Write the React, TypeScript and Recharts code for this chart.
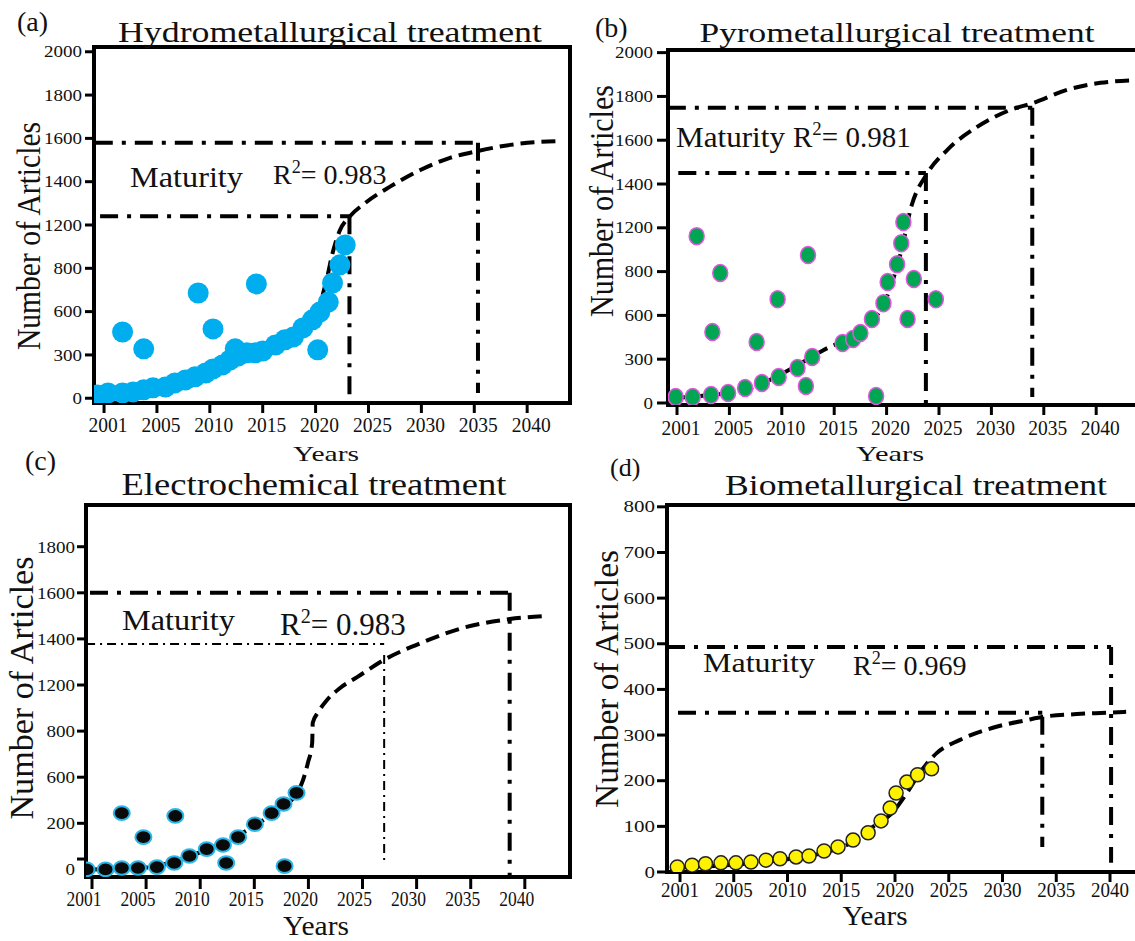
import React from 'react';
import { ComposedChart, XAxis, YAxis, Line, Scatter, ReferenceLine, ReferenceArea } from 'recharts';

const FONT = '"Liberation Serif", "Times New Roman", Times, serif';

// x axis tick years (ticks are evenly spaced in the figure)
const yearTicks = [2001, 2005, 2010, 2015, 2020, 2025, 2030, 2035, 2040];

// y axis tick values (evenly spaced in the figure, uneven in value)
const hydroStops = [0, 300, 600, 800, 1200, 1400, 1600, 1800, 2000];
const pyroStops = [0, 300, 600, 800, 1200, 1400, 1600, 1800, 2000];
const electroStops = [0, 200, 600, 800, 1200, 1400, 1600, 1800];
const bioStops = [0, 100, 200, 300, 400, 500, 600, 700, 800];

// [year, number of articles]
const hydroPoints: [number, number][] = [
  [2000.5, 23], [2001.3, 37], [2002.4, 37], [2003.2, 44], [2004.0, 58], [2004.7, 72], [2005.8, 78],
  [2006.7, 106], [2007.7, 127], [2008.6, 148], [2009.6, 175], [2010.3, 203], [2011.2, 231], [2011.9, 265],
  [2012.7, 293], [2013.5, 315], [2014.3, 315], [2015.0, 327], [2016.2, 369], [2017.1, 405], [2017.9, 425],
  [2018.8, 487], [2019.7, 543], [2020.4, 597], [2021.2, 644], [2021.6, 732], [2022.3, 832], [2022.8, 1016],
  [2002.4, 459], [2004.0, 342], [2008.9, 686], [2010.3, 480], [2012.4, 342], [2014.4, 728], [2020.2, 335],
];
const hydroFit: [number, number][] = [
  [2001, 25], [2005, 60], [2010, 180], [2015, 320], [2018, 450], [2020, 580], [2021.1, 760], [2021.55, 920],
  [2022.3, 1152], [2023.2, 1238], [2024.7, 1302], [2027, 1376], [2029.9, 1454], [2032.7, 1510],
  [2035.35, 1542], [2038.4, 1570], [2041.2, 1584], [2043.3, 1588],
];

const pyroPoints: [number, number][] = [
  [2000.9, 41], [2002.2, 41], [2003.6, 55], [2004.9, 68], [2006.5, 103], [2008.1, 137], [2009.7, 178],
  [2011.5, 240], [2012.9, 315], [2015.8, 411], [2016.8, 438], [2017.5, 480], [2018.6, 576], [2019.7, 656],
  [2020.1, 752], [2021.0, 868], [2021.4, 1060], [2021.6, 1226],
  [2012.3, 116], [2002.5, 1124], [2004.3, 794], [2003.7, 486], [2007.6, 417], [2009.6, 674], [2012.5, 952],
  [2022.6, 766], [2022.0, 576], [2024.7, 674], [2019.0, 48],
];
const pyroFit: [number, number][] = [
  [2001, 35], [2002.8, 48], [2006.5, 89], [2010.5, 219], [2014, 363], [2017.5, 500], [2019.9, 670],
  [2021.3, 952], [2022.4, 1304], [2023.9, 1450], [2025.8, 1556], [2028.6, 1660], [2031.8, 1738],
  [2034, 1770], [2037.2, 1830], [2040.4, 1862], [2043.7, 1874],
];

const electroPoints: [number, number][] = [
  [2000.6, 0], [2002, 0], [2003.2, 6], [2004.4, 6], [2006, 10], [2007.6, 28], [2009, 58], [2010.6, 88],
  [2012.1, 106], [2013.5, 140], [2015.05, 196], [2016.6, 288], [2017.7, 368], [2018.9, 464],
  [2003.2, 288], [2004.8, 140], [2007.7, 264], [2012.4, 28], [2017.8, 14],
];
const electroFit: [number, number][] = [
  [2001, 0], [2005, 8], [2008, 40], [2011, 95], [2014, 160], [2016.6, 280], [2018.9, 460], [2019.4, 549],
  [2019.95, 662], [2020.35, 750], [2020.4, 872], [2020.9, 964], [2021.7, 1068], [2022.9, 1172],
  [2024.5, 1234], [2027.1, 1312], [2030.6, 1386], [2034.3, 1448], [2038.6, 1486], [2042, 1500],
];

const bioPoints: [number, number][] = [
  [2000.8, 11], [2001.9, 15], [2002.9, 18], [2004.05, 20], [2005.2, 20], [2006.6, 22], [2008, 26],
  [2009.3, 29], [2010.8, 33], [2012, 35], [2013.4, 46], [2014.7, 55], [2016.1, 70], [2017.5, 86],
  [2018.7, 112], [2019.55, 140], [2020.1, 173], [2021.1, 197], [2022.1, 213], [2023.4, 226],
];
const bioFit: [number, number][] = [
  [2001, 10], [2005, 16], [2010, 28], [2013, 40], [2016, 65], [2018, 100], [2019.55, 125], [2021.1, 173],
  [2022.3, 217], [2023.9, 261], [2026, 289], [2029.1, 316], [2032.3, 333], [2033.8, 340], [2036.9, 346],
  [2039.7, 349], [2041.5, 351],
];

// piecewise position of a value between evenly spaced ticks
function warp(v: number, stops: number[]) {
  const n = stops.length;
  if (v <= stops[0]) return (v - stops[0]) / (stops[1] - stops[0]);
  for (let i = 1; i < n; i++) {
    if (v <= stops[i]) return i - 1 + (v - stops[i - 1]) / (stops[i] - stops[i - 1]);
  }
  return n - 1 + (v - stops[n - 1]) / (stops[n - 1] - stops[n - 2]);
}

const THICK = { w: 4, dash: '18 9 4 9' };
const THIN = { w: 2, dash: '9 5 2 5' };

type Seg = { a: [number, number]; b: [number, number]; s: { w: number; dash: string } };

const panels = [
  {
    key: 'a', left: 0, top: 0, width: 580, height: 470, mTop: 47, yW: 94, xH: 67,
    xDomain: [-0.19, 8.81], yDomain: [-0.11, 8.11],
    stops: hydroStops, yTicks: hydroStops, yLabels: hydroStops.map(String), noLine: [] as string[],
    points: hydroPoints, fit: hydroFit,
    dot: { rx: 10.5, ry: 10.5, fill: '#00AEEF', stroke: '#00AEEF', sw: 0 },
    xt: { dx: 4, dy: 29, size: 20, tw: 39, len: 10 },
    yt: { size: 16, cw: 9.5, gap: 12, len: 9 },
    segs: [
      { a: [2000.3, 1580], b: [2035.35, 1580], s: THICK },
      { a: [2035.35, 1580], b: [2035.35, 37], s: THICK },
      { a: [2000.7, 1240], b: [2023.2, 1240], s: THICK },
      { a: [2023.2, 1240], b: [2023.2, 0], s: THICK },
    ] as Seg[],
  },
  {
    key: 'b', left: 580, top: 0, width: 580, height: 470, mTop: 50, yW: 88, xH: 65,
    xDomain: [-0.172, 9.027], yDomain: [-0.046, 8.06],
    stops: pyroStops, yTicks: pyroStops, yLabels: pyroStops.map(String), noLine: [] as string[],
    points: pyroPoints, fit: pyroFit,
    dot: { rx: 7.5, ry: 8.5, fill: '#00A651', stroke: '#E455E0', sw: 1.5 },
    xt: { dx: 4, dy: 30, size: 20, tw: 39, len: 10 },
    yt: { size: 16, cw: 9.5, gap: 15, len: 11 },
    segs: [
      { a: [2000.3, 1748], b: [2033.9, 1748], s: THICK },
      { a: [2033.9, 1748], b: [2033.9, 41], s: THICK },
      { a: [2001.1, 1450], b: [2023.75, 1450], s: THICK },
      { a: [2023.75, 1450], b: [2023.75, -10], s: THICK },
    ] as Seg[],
  },
  {
    key: 'c', left: 0, top: 480, width: 580, height: 461, mTop: 25, yW: 86, xH: 64,
    xDomain: [-0.111, 8.835], yDomain: [-0.165, 7.905],
    stops: electroStops, yTicks: [0, 45, 200, 600, 800, 1200, 1400, 1600, 1800],
    yLabels: ['0', '', '200', '600', '800', '1200', '1400', '1600', '1800'], noLine: ['0'],
    points: electroPoints, fit: electroFit,
    dot: { rx: 8, ry: 6.8, fill: '#0A0A0A', stroke: '#29B6E8', sw: 2 },
    xt: { dx: -8, dy: 29, size: 21, tw: 35, len: 12 },
    yt: { size: 17, cw: 9.5, gap: 11, len: 9 },
    segs: [
      { a: [2000.85, 1600], b: [2038.5, 1600], s: THICK },
      { a: [2038.6, 1600], b: [2038.6, -30], s: THICK },
      { a: [2000.56, 1378], b: [2027.0, 1378], s: THIN },
      { a: [2027.0, 1330], b: [2027.0, 40], s: THIN },
    ] as Seg[],
  },
  {
    key: 'd', left: 580, top: 480, width: 580, height: 461, mTop: 25, yW: 87, xH: 69,
    xDomain: [-0.242, 8.744], yDomain: [0, 8.04],
    stops: bioStops, yTicks: bioStops, yLabels: bioStops.map(String), noLine: [] as string[],
    points: bioPoints, fit: bioFit,
    dot: { rx: 7, ry: 7, fill: '#FFF200', stroke: '#222', sw: 1.5 },
    xt: { dx: 0, dy: 25, size: 20, tw: 38, len: 10 },
    yt: { size: 16, cw: 10.5, gap: 12, len: 10 },
    segs: [
      { a: [2000.03, 493], b: [2040.1, 493], s: THICK },
      { a: [2040.1, 493], b: [2040.1, 20], s: THICK },
      { a: [2000.85, 349], b: [2033.7, 349], s: THICK },
      { a: [2033.7, 340], b: [2033.7, 55], s: THICK },
    ] as Seg[],
  },
];

type PanelCfg = (typeof panels)[number];

function XTick({ x, y, payload, cfg }: any) {
  const label = String(yearTicks[Math.round(payload.value)] ?? '');
  return (
    <g>
      <line x1={x} x2={x} y1={y} y2={y + cfg.len} stroke="#000" strokeWidth={3} />
      <text x={x + cfg.dx} y={y + cfg.dy} textAnchor="middle" fontFamily={FONT} fontSize={cfg.size}
        fill="#111" textLength={cfg.tw} lengthAdjust="spacingAndGlyphs">{label}</text>
    </g>
  );
}

function YTick({ x, y, payload, cfg, ticks }: any) {
  const t = ticks.find((tk: any) => Math.abs(tk.pos - payload.value) < 1e-6);
  if (!t) return <g />;
  return (
    <g>
      {t.line && <line x1={x - cfg.len} x2={x} y1={y} y2={y} stroke="#000" strokeWidth={3} />}
      {t.label !== '' && (
        <text x={x - cfg.gap} y={y} dy="0.35em" textAnchor="end" fontFamily={FONT} fontSize={cfg.size}
          fill="#111" textLength={t.label.length * cfg.cw} lengthAdjust="spacingAndGlyphs">{t.label}</text>
      )}
    </g>
  );
}

function TrendPanel({ p }: { p: PanelCfg }) {
  const wx = (yr: number) => warp(yr, yearTicks);
  const wy = (v: number) => warp(v, p.stops);
  const pts = p.points.map(([yr, v]) => ({ x: wx(yr), y: wy(v) }));
  const fit = p.fit.map(([yr, v]) => ({ x: wx(yr), y: wy(v) }));
  const ticks = p.yTicks.map((v, i) => ({
    pos: wy(v), label: p.yLabels[i], line: !p.noLine.includes(p.yLabels[i]),
  }));
  const dot = p.dot;
  return (
    <div style={{ position: 'absolute', left: p.left, top: p.top }}>
      <ComposedChart width={p.width} height={p.height}
        margin={{ top: p.mTop, right: 10, bottom: 0, left: 0 }}>
        <XAxis type="number" dataKey="x" domain={p.xDomain} allowDataOverflow ticks={[0, 1, 2, 3, 4, 5, 6, 7, 8]}
          interval={0} height={p.xH} tickSize={0} tickMargin={0}
          axisLine={{ stroke: '#000', strokeWidth: 4 }} tickLine={false}
          tick={(tp: any) => <XTick {...tp} cfg={p.xt} />} />
        <YAxis type="number" dataKey="y" domain={p.yDomain} allowDataOverflow ticks={ticks.map((t) => t.pos)}
          interval={0} width={p.yW} tickSize={0} tickMargin={0}
          axisLine={{ stroke: '#000', strokeWidth: 4 }} tickLine={false}
          tick={(tp: any) => <YTick {...tp} cfg={p.yt} ticks={ticks} />} />
        <ReferenceArea x1={p.xDomain[0]} x2={p.xDomain[1]} y1={p.yDomain[0]} y2={p.yDomain[1]}
          fill="none" fillOpacity={0} stroke="#000" strokeWidth={4} ifOverflow="visible" />
        {p.segs.map((s, i) => (
          <ReferenceLine key={i} ifOverflow="visible"
            segment={[{ x: wx(s.a[0]), y: wy(s.a[1]) }, { x: wx(s.b[0]), y: wy(s.b[1]) }]}
            stroke="#000" strokeWidth={s.s.w} strokeDasharray={s.s.dash} />
        ))}
        <Line data={fit} dataKey="y" type="monotone" dot={false} stroke="#000" strokeWidth={4}
          strokeDasharray="14 7" isAnimationActive={false} />
        <Scatter data={pts} dataKey="y" isAnimationActive={false}
          shape={(sp: any) => (
            <ellipse cx={sp.cx} cy={sp.cy} rx={dot.rx} ry={dot.ry} fill={dot.fill}
              stroke={dot.stroke} strokeWidth={dot.sw} />
          )} />
      </ComposedChart>
    </div>
  );
}

function T({ x, y, size, len, anchor = 'start', rot, children }: any) {
  return (
    <text x={x} y={y} fontFamily={FONT} fontSize={size} fill="#111" textAnchor={anchor}
      textLength={len} lengthAdjust={len ? 'spacingAndGlyphs' : undefined}
      transform={rot ? `rotate(-90 ${x} ${y})` : undefined}>{children}</text>
  );
}

function R2({ x, y, size, value }: any) {
  return (
    <text x={x} y={y} fontFamily={FONT} fontSize={size} fill="#111">
      R<tspan fontSize={size * 0.65} dy={-size * 0.4}>2</tspan>
      <tspan dy={size * 0.4}>= {value}</tspan>
    </text>
  );
}

export default function App() {
  return (
    <div style={{ position: 'absolute', left: 0, top: 0, width: 1135, height: 941, overflow: 'hidden', background: '#fff' }}>
      {panels.map((p) => <TrendPanel key={p.key} p={p} />)}
      <svg width={1135} height={941} style={{ position: 'absolute', left: 0, top: 0, pointerEvents: 'none' }}>
        <T x={17} y={31} size={28}>(a)</T>
        <T x={330} y={42} size={29} len={424} anchor="middle">Hydrometallurgical treatment</T>
        <T x={40} y={236} size={33} len={228} anchor="middle" rot>Number of Articles</T>
        <T x={326} y={461} size={22} len={66} anchor="middle">Years</T>
        <T x={130} y={187} size={29} len={113}>Maturity</T>
        <R2 x={273} y={184} size={28} value="0.983" />

        <T x={595} y={37} size={28}>(b)</T>
        <T x={897} y={42} size={28} len={395} anchor="middle">Pyrometallurgical treatment</T>
        <T x={613} y={201} size={34} len={232} anchor="middle" rot>Number of Articles</T>
        <T x={890} y={461} size={22} len={68} anchor="middle">Years</T>
        <T x={676} y={147} size={29} len={109}>Maturity</T>
        <R2 x={793} y={147} size={29} value="0.981" />

        <T x={25} y={470} size={28}>(c)</T>
        <T x={314} y={495} size={32} len={385} anchor="middle">Electrochemical treatment</T>
        <T x={33} y={688} size={33} len={263} anchor="middle" rot>Number of Articles</T>
        <T x={316} y={935} size={27} len={66} anchor="middle">Years</T>
        <T x={122} y={630} size={30} len={113}>Maturity</T>
        <R2 x={280} y={635} size={31} value="0.983" />

        <T x={610} y={476} size={26}>(d)</T>
        <T x={916} y={495} size={30} len={382} anchor="middle">Biometallurgical treatment</T>
        <T x={618} y={679} size={33} len={258} anchor="middle" rot>Number of Articles</T>
        <T x={875} y={925} size={28} len={65} anchor="middle">Years</T>
        <T x={703} y={672} size={28} len={112}>Maturity</T>
        <R2 x={853} y={675} size={28} value="0.969" />
      </svg>
    </div>
  );
}
